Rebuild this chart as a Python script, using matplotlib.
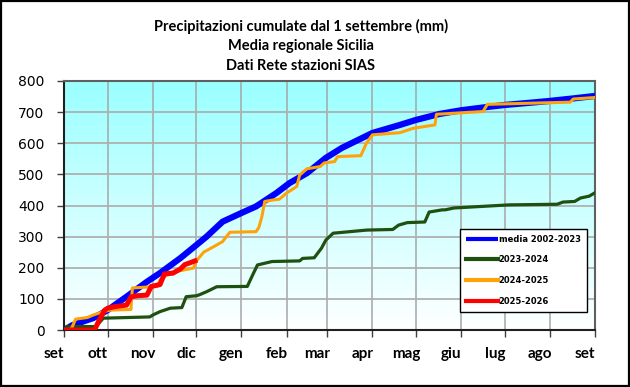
import numpy as np
import matplotlib
matplotlib.use("Agg")
import matplotlib.pyplot as plt
from matplotlib.patches import Rectangle
import matplotlib.transforms as mtransforms

# --- data (day from 1 September, cumulative mm) ---
month_labels = ["set", "ott", "nov", "dic", "gen", "feb", "mar", "apr", "mag", "giu", "lug", "ago", "set"]
month_days = [0, 30, 61, 91, 122, 153, 181, 212, 242, 273, 303, 334, 365]

media_days = [0, 6, 20, 30, 43, 57, 66, 80, 91, 98, 109, 122, 132, 146, 155, 167, 180, 191, 212, 231, 242, 258, 273, 290, 303, 320, 334, 350, 365]
media_vals = [0, 16, 38, 64, 107, 155, 183, 231, 273, 300, 348, 376, 397, 440, 472, 504, 553, 585, 633, 659, 675, 694, 706, 716, 723, 730, 736, 744, 752]

y2324_days = [0, 2, 22, 27, 59, 61, 66, 73, 81, 84, 91, 93, 98, 105, 126, 130, 133, 143, 162, 164, 172, 177, 180, 185, 208, 226, 230, 236, 248, 251, 260, 262, 268, 306, 339, 343, 351, 355, 361, 365]
y2324_vals = [0, 11, 11, 38, 42, 48, 59, 70, 72, 107, 110, 113, 123, 139, 140, 180, 209, 220, 222, 230, 232, 263, 289, 311, 321, 323, 337, 345, 347, 379, 386, 386, 392, 402, 404, 411, 413, 424, 430, 441]

y2425_days = [0, 5, 8, 16, 20, 27, 32, 46, 47, 64, 66, 71, 75, 76, 89, 91, 96, 103, 109, 114, 132, 134, 136, 138, 144, 148, 153, 160, 162, 167, 176, 179, 186, 188, 204, 208, 212, 231, 240, 255, 256, 288, 291, 348, 350, 365]
y2425_vals = [0, 3, 35, 40, 48, 59, 64, 66, 135, 140, 161, 177, 180, 187, 199, 222, 250, 268, 284, 314, 316, 330, 364, 413, 418, 420, 440, 461, 498, 518, 525, 537, 541, 557, 560, 601, 627, 634, 648, 659, 693, 702, 725, 732, 742, 747]

y2526_days = [0, 21, 24, 28, 30, 35, 43, 46, 50, 57, 60, 66, 69, 75, 80, 83, 86, 90]
y2526_vals = [0, 0, 30, 64, 70, 75, 80, 106, 110, 112, 140, 146, 180, 183, 196, 210, 215, 222]

series_names = ["media 2002-2023", "2023-2024", "2024-2025", "2025-2026"]

W, H = 630, 387
fig = plt.figure(figsize=(W / 100, H / 100), dpi=100)
fig.patch.set_facecolor("white")
fig.add_artist(Rectangle((0.0015, 0.0025), 0.997, 0.995, transform=fig.transFigure,
                         fill=False, edgecolor="black", linewidth=1.6))

ax = fig.add_axes([64 / W, 1 - 330 / H, (595 - 64) / W, (330 - 81) / H])

# gradient background
grad = np.linspace(0, 1, 256).reshape(-1, 1)
top = np.array([0.60, 1.0, 1.0])
bot = np.array([1.0, 1.0, 1.0])
img = bot + (top - bot) * grad
ax.imshow(img.reshape(256, 1, 3), extent=[0, 365, 0, 800], origin="lower",
          aspect="auto", zorder=0, interpolation="bilinear")

for d in month_days[1:-1]:
    ax.axvline(d, color="#a6a6a6", linewidth=1.1, zorder=1)
for v in range(100, 800, 100):
    ax.axhline(v, color="#b0b0b0", linewidth=1.3, zorder=1)

l1, = ax.plot(media_days, media_vals, color="#0000ff", linewidth=4.5, zorder=3, solid_capstyle="butt")
l2, = ax.plot(y2324_days, y2324_vals, color="#1e5010", linewidth=2.3, zorder=4)
l3, = ax.plot(y2425_days, y2425_vals, color="#ffa20a", linewidth=2.2, zorder=5)
l4, = ax.plot(y2526_days, y2526_vals, color="#ff0000", linewidth=3.6, zorder=6)

ax.set_xticks(month_days)
ax.set_xticklabels(month_labels, fontsize=11, fontweight="bold", family="Lato")
ax.tick_params(axis="x", which="major", length=5, width=1, color="#404040", direction="out", pad=7)
shift = mtransforms.ScaledTranslation(-10 / 100, 0, fig.dpi_scale_trans)
for lab in ax.get_xticklabels():
    lab.set_transform(lab.get_transform() + shift)
ax.set_yticks(range(0, 801, 100))
ax.set_yticklabels([str(v) for v in range(0, 801, 100)], fontsize=10, family="DejaVu Sans")
ax.tick_params(axis="y", length=5, width=1, color="#404040", direction="out", pad=9)
ax.set_xlim(0, 365)
ax.set_ylim(0, 800)

for s in ["top", "right"]:
    ax.spines[s].set_color("#606060")
    ax.spines[s].set_linewidth(1.5)
ax.spines["left"].set_color("#202020")
ax.spines["bottom"].set_color("#202020")
ax.spines["left"].set_linewidth(1.5)
ax.spines["bottom"].set_linewidth(1.5)

leg = ax.legend([l1, l2, l3, l4], series_names, loc="lower left",
                bbox_to_anchor=((460 - 64) / 531, (330 - 312) / 249, 127 / 531, 80 / 249),
                mode="expand", frameon=True, fancybox=False, framealpha=1,
                prop={"family": "DejaVu Sans", "weight": "bold", "size": 6.0},
                handlelength=3.8, handletextpad=0.1, labelspacing=1.4, borderpad=0.75,
                borderaxespad=0)
leg.get_frame().set_edgecolor("black")
leg.get_frame().set_linewidth(1.0)
for line in leg.get_lines():
    line.set_linewidth(3.0)

xc = 301 / W
fig.text(xc, 1 - 26 / H, "Precipitazioni cumulate dal 1 settembre (mm)", ha="center", va="center",
         fontsize=10.5, fontweight="bold", family="Lato")
fig.text(xc, 1 - 46 / H, "Media regionale Sicilia", ha="center", va="center",
         fontsize=10.5, fontweight="bold", family="Lato")
fig.text(xc, 1 - 66 / H, "Dati Rete stazioni SIAS", ha="center", va="center",
         fontsize=10.5, fontweight="bold", family="Lato")

fig.savefig("out.png", dpi=100)
